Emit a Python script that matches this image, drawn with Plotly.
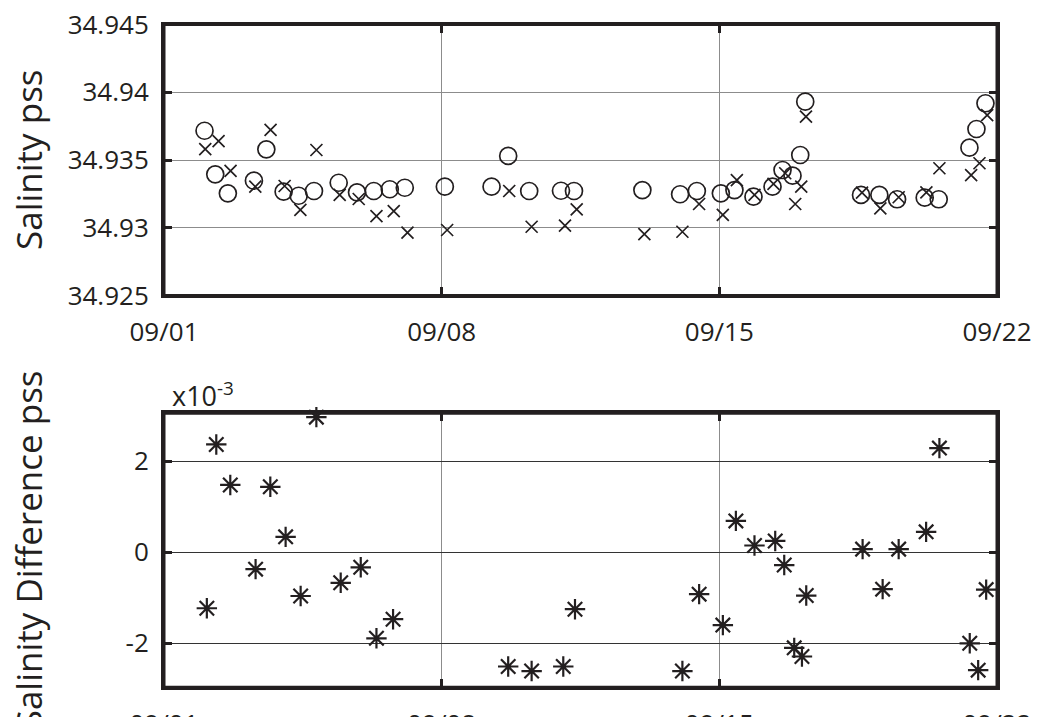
import pandas as pd
import plotly.graph_objects as go

# ---- data (days after 2021-09-01 00:00) ----
base_date = "2021-09-01"

circle_days = [1.022, 1.292, 1.610, 2.267, 2.580, 3.016, 3.395, 3.781, 4.404, 4.866,
               5.288, 5.692, 6.070, 7.080, 8.258, 8.677, 9.207, 10.008, 10.336, 12.060,
               13.011, 13.433, 14.038, 14.381, 14.861, 15.341, 15.593, 15.845, 16.040, 16.166,
               17.572, 18.034, 18.481, 19.177, 19.531, 20.305, 20.482, 20.709]
circle_vals = [34.93716, 34.93394, 34.93254, 34.93347, 34.93579, 34.93266, 34.93236, 34.93271, 34.93332, 34.93261,
               34.93271, 34.93284, 34.93295, 34.93303, 34.93303, 34.93530, 34.93271, 34.93273, 34.93271, 34.93278,
               34.93247, 34.93271, 34.93254, 34.93278, 34.93229, 34.93303, 34.93426, 34.93384, 34.93537, 34.93931,
               34.93242, 34.93242, 34.93210, 34.93222, 34.93210, 34.93591, 34.93729, 34.93919]

cross_days = [1.040, 1.376, 1.678, 2.302, 2.687, 3.041, 3.438, 3.842, 4.429, 4.909,
              5.356, 5.792, 6.138, 7.138, 8.703, 9.268, 10.109, 10.404, 12.110, 13.069,
              13.490, 14.088, 14.442, 14.886, 15.365, 15.661, 15.913, 16.065, 16.184, 17.597,
              18.059, 18.521, 19.220, 19.548, 20.348, 20.558, 20.752]
cross_vals = [34.93581, 34.93640, 34.93419, 34.93303, 34.93722, 34.93308, 34.93131, 34.93574, 34.93242, 34.93212,
              34.93086, 34.93123, 34.92963, 34.92983, 34.93271, 34.93007, 34.93015, 34.93136, 34.92953, 34.92970,
              34.93175, 34.93094, 34.93352, 34.93242, 34.93323, 34.93402, 34.93175, 34.93303, 34.93820, 34.93259,
              34.93143, 34.93225, 34.93261, 34.93439, 34.93389, 34.93476, 34.93832]

diff_days = [1.080, 1.318, 1.671, 2.309, 2.680, 3.066, 3.445, 3.841, 4.455, 4.960,
             5.356, 5.775, 8.677, 9.268, 10.066, 10.361, 13.069, 13.491, 14.089, 14.417,
             14.886, 15.409, 15.636, 15.888, 16.083, 16.191, 17.612, 18.117, 18.521, 19.213,
             19.548, 20.313, 20.525, 20.727]
diff_milli = [-1.23, 2.37, 1.48, -0.37, 1.44, 0.34, -0.96, 2.97, -0.67, -0.33,
              -1.89, -1.47, -2.51, -2.61, -2.51, -1.25, -2.61, -0.92, -1.60, 0.69,
              0.15, 0.25, -0.28, -2.10, -2.29, -0.95, 0.07, -0.81, 0.07, 0.45,
              2.29, -2.00, -2.59, -0.82]

x_tick_dates = ["2021-09-01", "2021-09-08", "2021-09-15", "2021-09-22"]
x_tick_text = ["09/01", "09/08", "09/15", "09/22"]
top_tick_vals = [34.925, 34.93, 34.935, 34.94, 34.945]
top_tick_text = ["34.925", "34.93", "34.935", "34.94", "34.945"]
bot_tick_vals = [-2, 0, 2]
bot_tick_text = ["-2", "0", "2"]


def to_time(days):
    return pd.Timestamp(base_date) + pd.to_timedelta(days, unit="D")


INK = "#231f20"
OFF = 8                      # page body margin
W, H = 1039 - OFF, 717 - OFF
FONT = "Open Sans"


def px(p):
    return (p - OFF) / W


def py(p):
    return 1 - (p - OFF) / H


fig = go.Figure()
fig.add_trace(go.Scatter(x=to_time(circle_days), y=circle_vals, mode="markers",
                         marker=dict(symbol="circle-open", size=17, color=INK,
                                     line=dict(width=1.7, color=INK)),
                         xaxis="x", yaxis="y", showlegend=False))
fig.add_trace(go.Scatter(x=to_time(cross_days), y=cross_vals, mode="markers",
                         marker=dict(symbol="x-thin-open", size=12, color=INK,
                                     line=dict(width=1.7, color=INK)),
                         xaxis="x", yaxis="y", showlegend=False))
fig.add_trace(go.Scatter(x=to_time(diff_days), y=diff_milli, mode="markers",
                         marker=dict(symbol="asterisk-open", size=17, color=INK,
                                     line=dict(width=2.2, color=INK)),
                         cliponaxis=False,
                         xaxis="x2", yaxis="y2", showlegend=False))


def axis_style(**kw):
    d = dict(showline=True, linewidth=3, linecolor=INK, mirror="ticks",
             ticks="inside", ticklen=8, tickwidth=3, tickcolor=INK,
             showgrid=True, gridcolor="#8c8c8c", gridwidth=1.2, zeroline=False,
             automargin=False, ticklabeloverflow="allow",
             tickfont=dict(family=FONT, size=26, color=INK))
    d.update(kw)
    return d


xdom = [px(164), px(997)]
top_dom = [py(295.4), py(24.6)]
bot_dom = [py(687.3), py(413.3)]
xrange = ["2021-09-01", "2021-09-22"]

frame_shapes = [
    dict(type="rect", xref="x domain", yref="y domain", x0=0, x1=1, y0=0, y1=1,
         line=dict(color=INK, width=3), layer="above"),
    dict(type="rect", xref="x2 domain", yref="y2 domain", x0=0, x1=1, y0=0, y1=1,
         line=dict(color=INK, width=3), layer="above"),
]

fig.update_layout(
    template="none",
    width=W, height=H,
    margin=dict(l=0, r=0, t=0, b=0, pad=0, autoexpand=False),
    paper_bgcolor="white", plot_bgcolor="white",
    xaxis=axis_style(domain=xdom, anchor="y", type="date", range=xrange,
                     tickvals=x_tick_dates, ticktext=x_tick_text, ticklabelstandoff=11),
    yaxis=axis_style(domain=top_dom, anchor="x", range=[34.925, 34.945],
                     tickvals=top_tick_vals, ticktext=top_tick_text, ticklabelstandoff=7),
    xaxis2=axis_style(domain=xdom, anchor="y2", type="date", range=xrange,
                      tickvals=x_tick_dates, ticktext=x_tick_text, ticklabelstandoff=11),
    yaxis2=axis_style(domain=bot_dom, anchor="x2", range=[-2.967, 3.055],
                      tickvals=bot_tick_vals, ticktext=bot_tick_text, ticklabelstandoff=7,
                      gridcolor="#333333"),
    shapes=frame_shapes,
    annotations=[
        dict(text="Salinity pss", textangle=-90, xref="paper", yref="paper",
             x=px(28), y=py(160), xanchor="center", yanchor="middle", showarrow=False,
             font=dict(family=FONT, size=35, color=INK)),
        dict(text="Salinity Difference pss", textangle=-90, xref="paper", yref="paper",
             x=px(28), y=py(550.3), xanchor="center", yanchor="middle", showarrow=False,
             font=dict(family=FONT, size=35, color=INK)),
        dict(text="x10<sup>-3</sup>", xref="paper", yref="paper",
             x=px(171), y=py(415), xanchor="left", yanchor="bottom", showarrow=False,
             borderpad=0, font=dict(family=FONT, size=27, color=INK)),
    ],
)

fig.write_html("out.html")
